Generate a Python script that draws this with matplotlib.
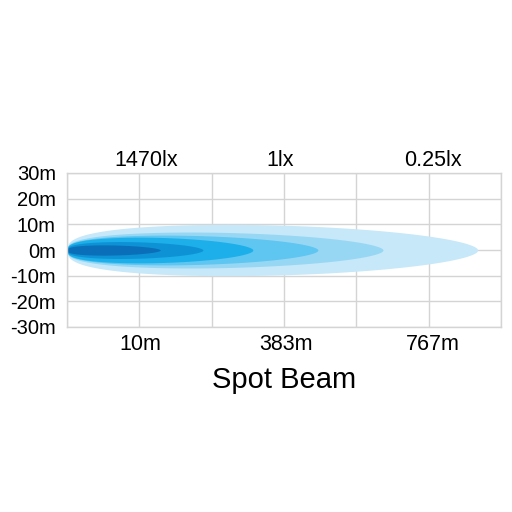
import numpy as np
import matplotlib
matplotlib.use("Agg")
import matplotlib.pyplot as plt

plt.rcParams['font.family'] = ['Liberation Sans', 'DejaVu Sans']

# Data
y_ticks = [30, 20, 10, 0, -10, -20, -30]
y_tick_labels = ["30m", "20m", "10m", "0m", "-10m", "-20m", "-30m"]
distance_labels = ["10m", "383m", "767m"]
distance_pos = [1.01, 3.03, 5.06]
lux_labels = ["1470lx", "1lx", "0.25lx"]
lux_pos = [1.1, 2.95, 5.06]
# beam layers (outer to inner): length in grid units, max half-width in m
layer_length = [5.68, 4.37, 3.47, 2.57, 1.88, 1.29]
layer_halfwidth = [10.0, 7.0, 5.8, 5.0, 3.3, 2.0]
layer_colors = ["#c6e8f8", "#97d7f4", "#5ec6f0", "#1cafea", "#0e92d6", "#0a6fb8"]
title = "Spot Beam"

fig = plt.figure(figsize=(5.12, 5.12), dpi=100)
ax = fig.add_axes([67/512, 1-327/512, 434/512, 154/512])
ax.set_xlim(0, 6)
ax.set_ylim(-30, 30)

a, b = 0.35, 0.55
umax = a / (a + b)
gmax = umax**a * (1 - umax)**b
for L, h, c in zip(layer_length, layer_halfwidth, layer_colors):
    u = np.linspace(0, 1, 400)
    g = (u**a * (1 - u)**b) / gmax
    x = u * L
    ax.fill_between(x, -h * g, h * g, color=c, linewidth=0, zorder=2)

ax.set_xticks(range(7))
ax.set_xticklabels([])
ax.set_yticks(y_ticks)
ax.set_yticklabels(y_tick_labels, fontsize=14.5)
ax.tick_params(length=0, pad=8)
ax.grid(True, color="#d4d4d4", linewidth=1, zorder=1)
ax.set_axisbelow(True)
for s in ax.spines.values():
    s.set_color("#d4d4d4")
    s.set_linewidth(1)

for p, t in zip(distance_pos, distance_labels):
    ax.text(p, -39, t, ha="center", va="baseline", fontsize=15.5)
for p, t in zip(lux_pos, lux_labels):
    ax.text(p, 32.7, t, ha="center", va="baseline", fontsize=15.5)
ax.text(3, -53.8, title, ha="center", va="baseline", fontsize=21)

fig.savefig("out.png", dpi=100, facecolor="white")
